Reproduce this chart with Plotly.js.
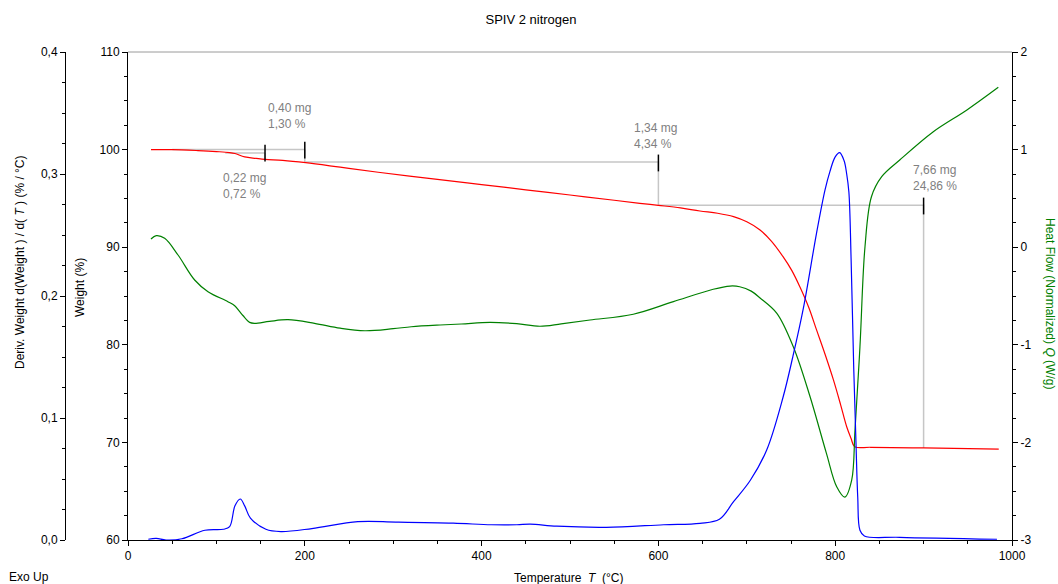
<!DOCTYPE html>
<html><head><meta charset="utf-8">
<script src="https://cdn.plot.ly/plotly-3.0.1.min.js"></script>
<style>html,body{margin:0;padding:0;background:#fff}#chart{width:1058px;height:584px}</style>
</head><body><div id="chart"></div>
<script>
// Weight (%) vs Temperature
const weightT = [26, 50, 79, 100, 115, 121, 132, 145, 155, 175, 201, 240, 283, 350, 400, 450, 500, 550, 579, 600, 625, 647, 667, 685, 700, 715, 728, 741, 751, 760, 770, 779, 789, 798, 806, 813, 818, 822, 840, 900, 985];
const weightV = [100.0, 100.0, 99.9, 99.8, 99.7, 99.6, 99.25, 99.1, 99.0, 98.9, 98.66, 98.2, 97.68, 96.95, 96.42, 95.88, 95.35, 94.81, 94.5, 94.29, 94.03, 93.71, 93.48, 93.13, 92.6, 91.76, 90.6, 89.03, 87.6, 85.95, 83.85, 81.5, 78.9, 76.4, 73.9, 71.6, 70.4, 69.56, 69.5, 69.43, 69.32];

// Deriv. weight (%/°C)
const derivT = [23, 32, 43, 61, 87, 108, 115, 121, 127, 132, 138.5, 156, 173, 208, 260, 303, 368, 411, 440, 455, 485, 541, 606, 647, 669, 685, 704, 722.5, 741, 752, 764, 779, 788.5, 794, 800, 805, 810, 813, 815.5, 818, 821, 823.5, 825.5, 828, 833, 873, 983];
const derivV = [0.0006, 0.0013, 0.0, 0.001, 0.008, 0.0088, 0.011, 0.028, 0.0336, 0.028, 0.018, 0.0088, 0.0069, 0.0094, 0.015, 0.0147, 0.0138, 0.0125, 0.0125, 0.013, 0.0113, 0.0104, 0.0125, 0.0137, 0.017, 0.0314, 0.049, 0.0738, 0.117, 0.15, 0.19, 0.252, 0.287, 0.302, 0.314, 0.3175, 0.311, 0.30, 0.285, 0.23, 0.14, 0.08, 0.035, 0.008, 0.0033, 0.0022, 0.0006];

// Heat flow (W/g)
const heatT = [26, 32, 41.5, 56.6, 75.4, 90.5, 113, 120.7, 130, 137.6, 143, 160, 181, 211, 240, 268, 300, 320.5, 353, 377, 409.5, 439.7, 466, 490, 522.6, 571.6, 617, 662, 681, 692, 705, 715, 734, 752.6, 771.5, 790, 801.7, 811, 818.7, 822.4, 828, 833.7, 841, 852.6, 873, 911, 949, 984.5];
const heatV = [0.084, 0.118, 0.091, -0.08, -0.336, -0.456, -0.558, -0.60, -0.70, -0.77, -0.78, -0.76, -0.743, -0.78, -0.83, -0.856, -0.835, -0.815, -0.797, -0.787, -0.77, -0.784, -0.81, -0.785, -0.746, -0.687, -0.558, -0.431, -0.398, -0.405, -0.45, -0.52, -0.677, -1.02, -1.53, -2.11, -2.454, -2.56, -2.385, -1.873, -1.02, 0.005, 0.517, 0.722, 0.893, 1.183, 1.406, 1.638];

// Step-analysis guide lines (weight axis)
const stepT = [50, 200, null, 110, 155, null, 155, 155, null, 200, 200, 600, 600, 900, 900];
const stepW = [100, 100, null, 99.65, 99.65, null, 99.65, 99.0, null, 100, 98.72, 98.72, 94.29, 94.29, 69.43];
const markT = [155, 200, 600, 900];
const markW = [99.64, 99.95, 98.63, 94.22];

// Step labels
const stepLabels = ["0,40 mg<br>1,30 %", "0,22 mg<br>0,72 %", "1,34 mg<br>4,34 %", "7,66 mg<br>24,86 %"];
const stepLabelT = [155.8, 104.9, 570.5, 885.4];
const stepLabelW = [103.41, 96.27, 101.39, 97.06];

// Tick labels
const heatTicks = [-3, -2, -1, 0, 1, 2];
const heatTickText = ["-3", "-2", "-1", "0", "1", "2"];
const derivTicks = [0, 0.1, 0.2, 0.3, 0.4];
const derivTickText = ["0,0", "0,1", "0,2", "0,3", "0,4"];

const FONT = "Liberation Sans, Arial, sans-serif";
const L = 60, R = 46, PW = 1058 - L - R;
const px = p => (p - L) / PW;

const SPL = {shape: 'spline', smoothing: 1};
const traces = [
  {x: stepT, y: stepW, yaxis: 'y', mode: 'lines', line: {color: '#c6c6c6', width: 1.5}, hoverinfo: 'skip', connectgaps: false},
  {x: heatT, y: heatV, yaxis: 'y2', mode: 'lines', line: Object.assign({color: '#008000', width: 1.2}, SPL)},
  {x: derivT, y: derivV, yaxis: 'y3', mode: 'lines', line: Object.assign({color: '#0000ff', width: 1.2}, SPL)},
  {x: weightT, y: weightV, yaxis: 'y', mode: 'lines', line: Object.assign({color: '#ff0000', width: 1.2}, SPL)},
  {x: markT, y: markW, yaxis: 'y', mode: 'markers', marker: {symbol: 'line-ns-open', size: 12, color: '#000', line: {color: '#000', width: 1.5}}, hoverinfo: 'skip'}
];

const axisCommon = {showgrid: false, zeroline: false, showline: true, linecolor: '#000', linewidth: 1, ticks: 'outside', ticklen: 5, tickcolor: '#000', tickfont: {family: FONT, size: 12, color: '#000'}};

const annotations = stepLabels.map((t, i) => ({
  text: t, x: stepLabelT[i], y: stepLabelW[i], xref: 'x', yref: 'y', xanchor: 'left', yanchor: 'middle', align: 'left',
  showarrow: false, font: {family: FONT, size: 12, color: '#808080'}
}));
annotations.push(
  {text: 'Deriv. Weight d(Weight ) / d( <i>T</i> ) (% / °C)', x: px(20), y: (540 - 262) / 488, xref: 'paper', yref: 'paper', textangle: -90, showarrow: false, xanchor: 'center', yanchor: 'middle', font: {family: FONT, size: 12, color: '#000'}},
  {text: 'Weight (%)', x: px(80), y: (540 - 288) / 488, xref: 'paper', yref: 'paper', textangle: -90, showarrow: false, xanchor: 'center', yanchor: 'middle', font: {family: FONT, size: 12, color: '#000'}},
  {text: 'Heat Flow (Normalized) <i>Q</i> (W/g)', x: px(1050), y: (540 - 303) / 488, xref: 'paper', yref: 'paper', textangle: 90, showarrow: false, xanchor: 'center', yanchor: 'middle', font: {family: FONT, size: 12, color: '#008000'}},
  {text: 'Exo Up', x: px(29), y: (540 - 577) / 488, xref: 'paper', yref: 'paper', showarrow: false, xanchor: 'center', yanchor: 'middle', font: {family: FONT, size: 12, color: '#000'}},
  {text: 'Temperature  <i>T</i>  (°C)', x: px(569), y: (540 - 578) / 488, xref: 'paper', yref: 'paper', showarrow: false, xanchor: 'center', yanchor: 'middle', font: {family: FONT, size: 12, color: '#000'}}
);

const layout = {
  width: 1058, height: 584,
  margin: {l: L, r: R, t: 52, b: 44},
  paper_bgcolor: '#fff', plot_bgcolor: '#fff',
  showlegend: false,
  separators: ',.',
  font: {family: FONT, size: 12, color: '#000'},
  title: {text: 'SPIV 2 nitrogen', font: {family: FONT, size: 13, color: '#000'}, xref: 'container', yref: 'container', x: 531 / 1058, y: 1 - 19 / 584, xanchor: 'center', yanchor: 'middle'},
  xaxis: Object.assign({}, axisCommon, {domain: [px(128), 1], range: [0, 1000], dtick: 200, tick0: 0, anchor: 'y',
    minor: {dtick: 50, tick0: 0, ticks: 'outside', ticklen: 3, tickcolor: '#000'}}),
  yaxis: Object.assign({}, axisCommon, {range: [60, 110], dtick: 10, tick0: 60, anchor: 'x', side: 'left',
    minor: {dtick: 2.5, tick0: 60, ticks: 'outside', ticklen: 3, tickcolor: '#000'}}),
  yaxis2: Object.assign({}, axisCommon, {range: [-3, 2], overlaying: 'y', side: 'right', anchor: 'x', tickmode: 'array', tickvals: heatTicks, ticktext: heatTickText,
    minor: {tickmode: 'linear', dtick: 0.25, tick0: 0, ticks: 'outside', ticklen: 3, tickcolor: '#000'}}),
  yaxis3: Object.assign({}, axisCommon, {range: [0, 0.4], overlaying: 'y', side: 'left', anchor: 'free', position: px(65), tickmode: 'array', tickvals: derivTicks, ticktext: derivTickText,
    minor: {tickmode: 'linear', dtick: 0.025, tick0: 0, ticks: 'outside', ticklen: 3, tickcolor: '#000'}}),
  shapes: [
    {type: 'line', xref: 'x domain', yref: 'paper', x0: 0, x1: 1, y0: 1, y1: 1, line: {color: '#9a9a9a', width: 1}}
  ],
  annotations: annotations
};

Plotly.newPlot('chart', traces, layout, {staticPlot: true, displayModeBar: false});
</script></body></html>
